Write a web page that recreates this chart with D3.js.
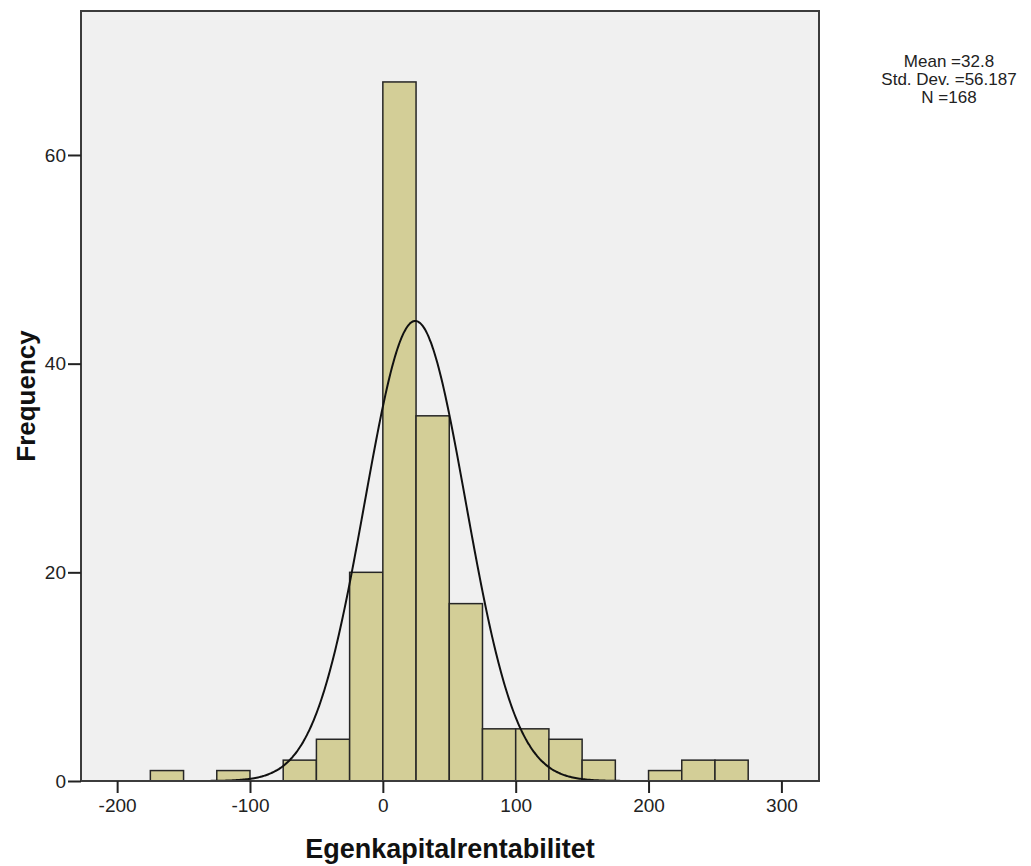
<!DOCTYPE html>
<html>
<head>
<meta charset="utf-8">
<script src="https://cdn.jsdelivr.net/npm/d3@7"></script>
<style>
  body { margin: 0; background: #fff; }
  svg { display: block; }
</style>
</head>
<body>
<svg id="mainsvg" width="1031" height="866"></svg>
<script>
// histogram bins (width 25) and counts
let binStarts = [-175, -125, -75, -50, -25, 0, 25, 50, 75, 100, 125, 150, 200, 225, 250];
let binCounts = [1, 1, 2, 4, 20, 67, 35, 17, 5, 5, 4, 2, 1, 2, 2];
let binWidth = 25;
let xTicks = [-200, -100, 0, 100, 200, 300];
let yTicks = [0, 20, 40, 60];
let statLines = ["Mean =32.8", "Std. Dev. =56.187", "N =168"];
// normal curve as drawn in the picture
let curveMean = 24.4;
let curveSd = 38;
let curveN = 168;

let svg = d3.select("#mainsvg");
let plotL = 81, plotR = 819, plotT = 11, plotB = 781;

let x = d3.scaleLinear().domain([-227.2, 328.3]).range([plotL, plotR]);
let y = d3.scaleLinear().domain([0, 73.8]).range([plotB, plotT]);

// plot background
svg.append("rect")
    .attr("x", plotL).attr("y", plotT)
    .attr("width", plotR - plotL).attr("height", plotB - plotT)
    .attr("fill", "#f0f0f0");

// bars
let bars = binStarts.map((s, i) => ({x0: s, x1: s + binWidth, n: binCounts[i]}));
svg.append("g").selectAll("rect").data(bars).enter()
    .append("rect")
    .attr("x", d => x(d.x0))
    .attr("y", d => y(d.n))
    .attr("width", d => x(d.x1) - x(d.x0))
    .attr("height", d => y(0) - y(d.n))
    .attr("fill", "#d3ce97")
    .attr("stroke", "#262626")
    .attr("stroke-width", 1.5);

// normal curve
let scaleK = curveN * binWidth / (curveSd * Math.sqrt(2 * Math.PI));
let xs = d3.range(-227, 328.5, 1);
let curve = xs.map(v => [v, scaleK * Math.exp(-Math.pow(v - curveMean, 2) / (2 * curveSd * curveSd))]);
svg.append("path")
    .datum(curve)
    .attr("d", d3.line().x(d => x(d[0])).y(d => y(d[1])).curve(d3.curveBasis))
    .attr("fill", "none")
    .attr("stroke", "#111")
    .attr("stroke-width", 2);

// frame
svg.append("rect")
    .attr("x", plotL).attr("y", plotT)
    .attr("width", plotR - plotL).attr("height", plotB - plotT)
    .attr("fill", "none")
    .attr("stroke", "#3c3c3c")
    .attr("stroke-width", 2);

// axes
let xAxis = svg.append("g")
    .attr("transform", "translate(0," + plotB + ")")
    .call(d3.axisBottom(x).tickValues(xTicks).tickFormat(d => String(d))
        .tickSize(12).tickPadding(6).tickSizeOuter(0));
let yAxis = svg.append("g")
    .attr("transform", "translate(" + plotL + ",0)")
    .call(d3.axisLeft(y).tickValues(yTicks).tickFormat(d => String(d))
        .tickSize(13).tickPadding(2).tickSizeOuter(0));
[xAxis, yAxis].forEach(function (g) {
    g.select(".domain").remove();
    g.selectAll("line").attr("stroke", "#222").attr("stroke-width", 2);
    g.selectAll("text")
        .attr("fill", "#222")
        .style("font-family", "'Liberation Sans', Arial, sans-serif")
        .style("font-size", "19px");
});

// axis titles
svg.append("text")
    .attr("x", (plotL + plotR) / 2).attr("y", 858)
    .attr("text-anchor", "middle")
    .style("font-family", "'Liberation Sans', Arial, sans-serif")
    .style("font-weight", "bold")
    .style("font-size", "27px")
    .attr("fill", "#111")
    .text("Egenkapitalrentabilitet");
svg.append("text")
    .attr("transform", "translate(35,396) rotate(-90)")
    .attr("text-anchor", "middle")
    .style("font-family", "'Liberation Sans', Arial, sans-serif")
    .style("font-weight", "bold")
    .style("font-size", "26px")
    .attr("fill", "#111")
    .text("Frequency");

// stats box
svg.append("g").selectAll("text").data(statLines).enter()
    .append("text")
    .attr("x", 949)
    .attr("y", (d, i) => 67 + i * 18)
    .attr("text-anchor", "middle")
    .style("font-family", "'Liberation Sans', Arial, sans-serif")
    .style("font-size", "17px")
    .attr("fill", "#222")
    .text(d => d);
</script>
</body>
</html>
